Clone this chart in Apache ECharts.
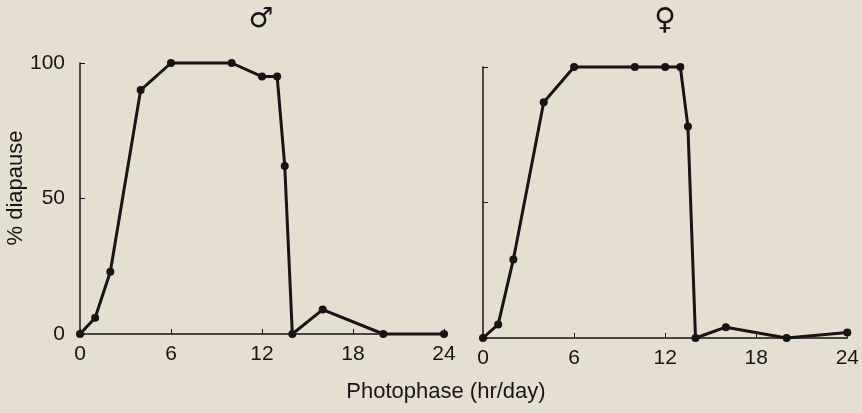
<!DOCTYPE html>
<html>
<head>
<meta charset="utf-8">
<script src="https://cdn.jsdelivr.net/npm/echarts@6/dist/echarts.min.js"></script>
<style>
html,body{margin:0;padding:0;background:#e5dfd2;}
#c{width:862px;height:413px;}
</style>
</head>
<body>
<div id="c"></div>
<script>
// Data
const hours = [0, 1, 2, 4, 6, 10, 12, 13, 13.5, 14, 16, 20, 24];
const maleDiapause = [0, 6, 23, 90, 100, 100, 95, 95, 62, 0, 9, 0, 0];
const femaleDiapause = [0, 5, 29, 87, 100, 100, 100, 100, 78, 0, 4, 0, 2];
const xTicks = [0, 6, 12, 18, 24];
const yTicks = [0, 50, 100];
const panelTitles = ['\u2642', '\u2640'];
const xAxisTitle = 'Photophase (hr/day)';
const yAxisTitle = '% diapause';

const ink = '#151515';
const font = 'Liberation Sans, Arial, sans-serif';

function pairs(xs, ys) { return xs.map((x, i) => [x, ys[i]]); }

function xAxis(gridIndex) {
  return {
    type: 'value', gridIndex: gridIndex, min: xTicks[0], max: xTicks[xTicks.length - 1], interval: 6,
    axisLine: { lineStyle: { color: ink, width: 1.5 } },
    axisTick: { inside: true, length: 5, lineStyle: { color: ink, width: 1 } },
    axisLabel: { color: ink, fontSize: 21, fontFamily: font, margin: 10 },
    splitLine: { show: false }
  };
}
function yAxis(gridIndex, showLabels) {
  return {
    type: 'value', gridIndex: gridIndex, min: yTicks[0], max: yTicks[yTicks.length - 1], interval: 50,
    axisLine: { show: true, lineStyle: { color: ink, width: 1.5 } },
    axisTick: { show: true, inside: true, length: 5, lineStyle: { color: ink, width: 1 } },
    axisLabel: { show: showLabels, color: ink, fontSize: 21, fontFamily: font, margin: 15 },
    splitLine: { show: false }
  };
}
function lineSeries(idx, ys) {
  return {
    type: 'line', xAxisIndex: idx, yAxisIndex: idx, data: pairs(hours, ys),
    symbol: 'circle', symbolSize: 8, clip: false,
    lineStyle: { color: ink, width: 3 },
    itemStyle: { color: ink }
  };
}

const chart = echarts.init(document.getElementById('c'), null, { renderer: 'canvas' });
chart.setOption({
  backgroundColor: '#e5dfd2',
  animation: false,
  grid: [
    { left: 80, top: 63, width: 364, height: 271 },
    { left: 483, top: 67, width: 365, height: 271 }
  ],
  xAxis: [xAxis(0), xAxis(1)],
  yAxis: [yAxis(0, true), yAxis(1, false)],
  series: [lineSeries(0, maleDiapause), lineSeries(1, femaleDiapause)],
  graphic: [
    { type: 'text', x: 261, y: 20, style: { text: panelTitles[0], font: '28px DejaVu Sans', fill: ink, textAlign: 'center', textVerticalAlign: 'middle' } },
    { type: 'text', x: 665, y: 21, style: { text: panelTitles[1], font: '30px DejaVu Sans', fill: ink, textAlign: 'center', textVerticalAlign: 'middle' } },
    { type: 'text', x: 446, y: 392, style: { text: xAxisTitle, font: '22px ' + font, fill: ink, textAlign: 'center', textVerticalAlign: 'middle' } },
    { type: 'text', x: 16, y: 188, rotation: Math.PI / 2, style: { text: yAxisTitle, font: '22px ' + font, fill: ink, textAlign: 'center', textVerticalAlign: 'middle' } }
  ]
});
</script>
</body>
</html>
